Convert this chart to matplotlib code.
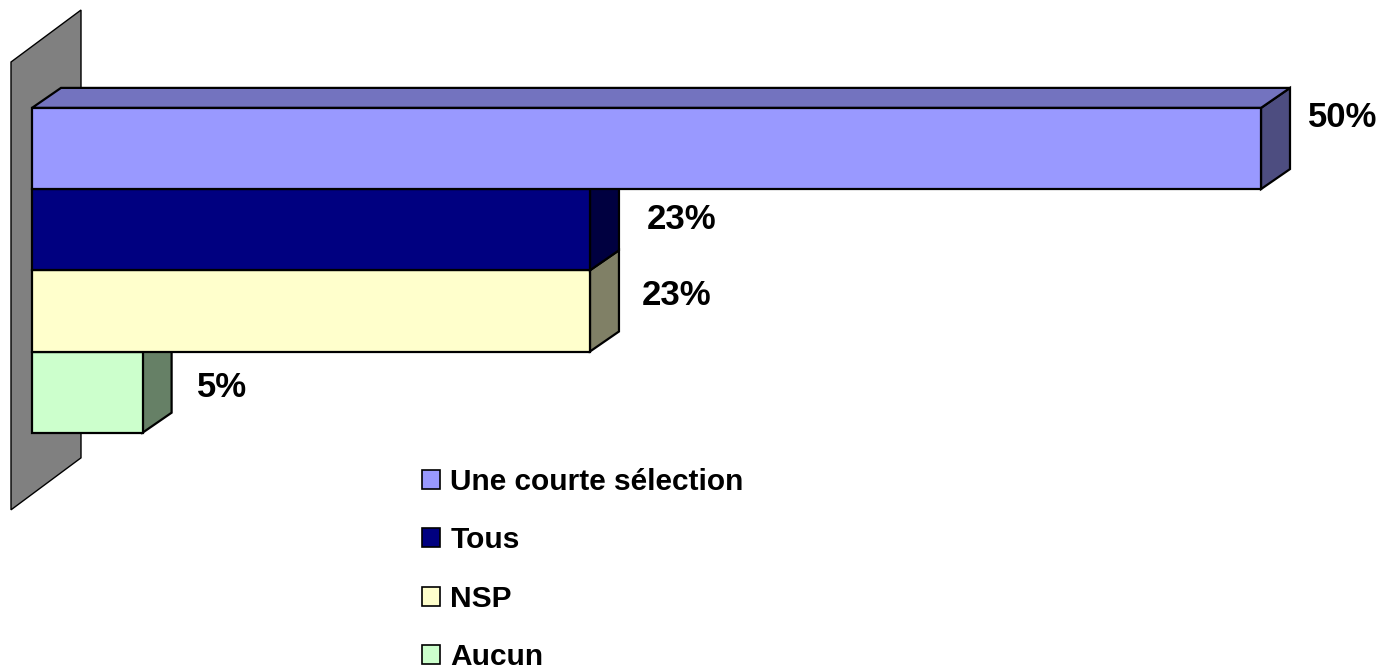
import matplotlib.pyplot as plt
from matplotlib.patches import Polygon, Patch

# data
categories = ['Une courte sélection', 'Tous', 'NSP', 'Aucun']
values = [50.0, 22.7, 22.7, 4.5]
labels = ['50%', '23%', '23%', '5%']

front_colors = ['#9999FF', '#000080', '#FFFFCC', '#CCFFCC']
side_colors = ['#4D4D80', '#000040', '#808066', '#668066']
top_color = '#7373BF'

plt.rcParams['font.family'] = ['Liberation Sans', 'DejaVu Sans']

W, H = 1385, 672
fig = plt.figure(figsize=(W / 100, H / 100), dpi=100)
ax = fig.add_axes([0, 0, 1, 1])

# layout: pixel mapping of the axes
x0_px, px_per_pct = 32, 24.58
y0_px, px_per_bar = 148.5, 81.2
ax.set_xlim(-x0_px / px_per_pct, (W - x0_px) / px_per_pct)
ax.set_ylim((H - y0_px) / px_per_bar, -y0_px / px_per_bar)
ax.axis('off')

# 3d depth of the bars (data units)
DX = 29 / px_per_pct
DY = -20 / px_per_bar

# side wall
wx0 = -21 / px_per_pct
wdx = 70 / px_per_pct
wdy = -52 / px_per_bar
wtop = -1.065
wbot = 4.45
ax.add_patch(Polygon([(wx0, wtop), (wx0 + wdx, wtop + wdy),
                      (wx0 + wdx, wbot + wdy), (wx0, wbot)],
                     closed=True, facecolor='#808080', edgecolor='black',
                     lw=1.0, zorder=1))

lw = 1.6
n = len(values)
for k, i in enumerate(range(n - 1, -1, -1)):
    v = values[i]
    z = 2 + 3 * k
    top, bot = i - 0.5, i + 0.5
    ax.add_patch(Polygon([(v, top), (v + DX, top + DY), (v + DX, bot + DY), (v, bot)],
                         closed=True, facecolor=side_colors[i], edgecolor='black',
                         lw=lw, zorder=z, joinstyle='miter'))
    if i == 0:
        ax.add_patch(Polygon([(0, top), (DX, top + DY), (v + DX, top + DY), (v, top)],
                             closed=True, facecolor=top_color, edgecolor='black',
                             lw=lw, zorder=z + 1, joinstyle='miter'))
    ax.barh(i, v, height=1.0, left=0, color=front_colors[i], edgecolor='black',
            linewidth=lw, zorder=z + 2)

# value labels
label_dy = [-0.38, -0.13, -0.19, -0.06]
label_dx = [1.9, 2.3, 2.1, 2.2]
for i, (v, t) in enumerate(zip(values, labels)):
    ax.text(v + label_dx[i], i + label_dy[i], t, ha='left', va='center',
            fontsize=25, fontweight='bold', zorder=50)

handles = [Patch(facecolor=c, edgecolor='black', linewidth=1.2) for c in front_colors]
fig.legend(handles, categories, loc='upper left',
           bbox_to_anchor=(422 / W, 1 - 468 / H), frameon=False,
           prop={'weight': 'bold', 'size': 21.5}, handlelength=0.6,
           handleheight=0.6, handletextpad=0.35, labelspacing=1.02,
           borderpad=0, borderaxespad=0)

fig.savefig('out.png', dpi=100)
